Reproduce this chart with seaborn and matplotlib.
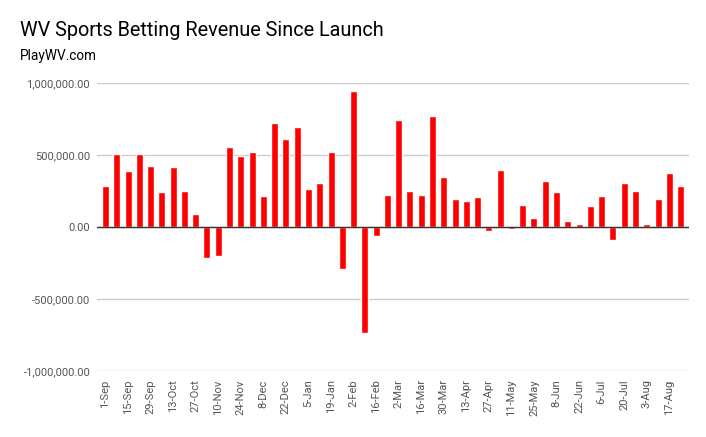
import pandas as pd
import matplotlib.pyplot as plt
import seaborn as sns
from matplotlib.ticker import FuncFormatter

# Weekly revenue, Sep 2018 - Aug 2019
weeks = pd.date_range("2018-09-01", periods=52, freq="7D")
week_labels = [f"{d.day}-{d.strftime('%b')}" for d in weeks]
revenue = [
    288000, 507000, 388000, 507000, 423000, 240000, 416000, 249000, 88000, -212000,
    -198000, 556000, 493000, 521000, 214000, 723000, 612000, 695000, 263000, 305000,
    521000, -295000, 944000, -735000, -63000, 221000, 744000, 249000, 221000, 772000,
    347000, 193000, 179000, 207000, -30000, 395000, -12000, 151000, 60000, 319000,
    242000, 40000, 19000, 144000, 214000, -88000, 305000, 249000, 19000, 193000,
    374000, 284000,
]

df = pd.DataFrame({"week": week_labels, "revenue": revenue})

sns.set_style("white")
plt.rcParams["font.family"] = ["Roboto", "DejaVu Sans"]

fig = plt.figure(figsize=(7.06, 4.37), dpi=100)
ax = fig.add_axes([0.1374, 0.151, 0.976 - 0.1374, 0.810 - 0.151])

sns.barplot(data=df, x="week", y="revenue", color="#ff0000", saturation=1,
            width=0.62, ax=ax)

ax.set_ylim(-1_000_000, 1_000_000)
ax.set_xlim(-0.75, len(revenue) - 0.25)
ax.set_yticks([-1_000_000, -500_000, 0, 500_000, 1_000_000])
ax.yaxis.set_major_formatter(FuncFormatter(lambda v, _: f"{v:,.2f}"))
ax.set_xticks(range(0, len(revenue), 2))
ax.set_xticklabels(week_labels[::2], rotation=90)
ax.tick_params(axis="both", length=0, labelsize=8, labelcolor="#555555")
ax.tick_params(axis="x", pad=6)
ax.tick_params(axis="y", pad=5)

ax.grid(axis="y", color="#cccccc", linewidth=1)
ax.set_axisbelow(True)
ax.axhline(0, color="#333333", linewidth=1, zorder=3)
for s in ax.spines.values():
    s.set_visible(False)
ax.set_xlabel("")
ax.set_ylabel("")

fig.text(20 / 706, 1 - 31 / 437, "WV Sports Betting Revenue Since Launch",
         fontsize=14.3, color="#000000", va="center")
fig.text(20 / 706, 1 - 56 / 437, "PlayWV.com", fontsize=9.8, color="#000000",
         va="center")

fig.savefig("out.png", dpi=100, facecolor="white")
